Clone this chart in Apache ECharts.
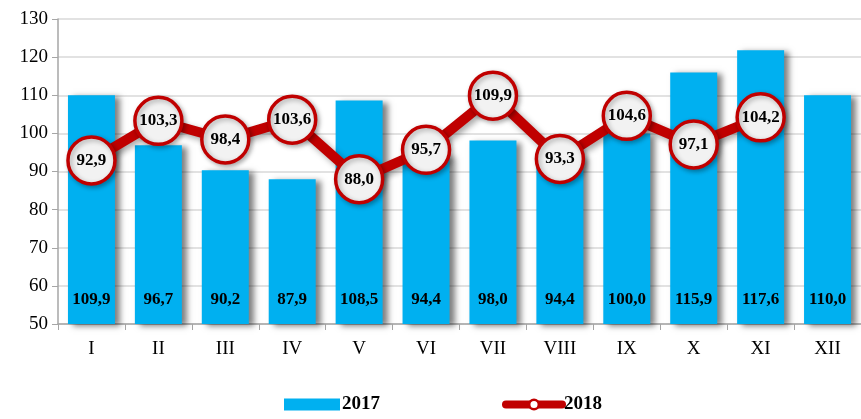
<!DOCTYPE html>
<html>
<head>
<meta charset="utf-8">
<script src="https://cdn.jsdelivr.net/npm/echarts@6/dist/echarts.min.js"></script>
<style>
  html, body { margin: 0; padding: 0; background: #fff; }
  #chart { width: 861px; height: 419px; }
</style>
</head>
<body>
<div id="chart"></div>
<script>
// months
var months = ['I', 'II', 'III', 'IV', 'V', 'VI', 'VII', 'VIII', 'IX', 'X', 'XI', 'XII'];
// 2017: bar heights as drawn, and the numbers printed on them
var bars2017 = [110.0, 96.9, 90.3, 88.0, 108.6, 94.4, 98.1, 94.4, 100.0, 116.0, 121.8, 110.0];
var labels2017 = ['109,9', '96,7', '90,2', '87,9', '108,5', '94,4', '98,0', '94,4', '100,0', '115,9', '117,6', '110,0'];
// 2018
var line2018 = [92.9, 103.3, 98.4, 103.6, 88.0, 95.7, 109.9, 93.3, 104.6, 97.1, 104.2];
var yTicks = { min: 50, max: 130, step: 10 };

var serif = 'Liberation Serif';
var chart = echarts.init(document.getElementById('chart'));

chart.setOption({
  animation: false,
  textStyle: { fontFamily: serif },
  grid: { left: 58, right: 0, top: 19, bottom: 95 },
  legend: {
    bottom: 0,
    left: 279,
    itemGap: 122,
    textStyle: { fontFamily: serif, fontSize: 19, fontWeight: 'bold', color: '#000', padding: [0, 0, 0, -3] },
    data: [
      { name: '2017', icon: 'rect', itemStyle: { color: '#00b0f0' } },
      {
        name: '2018',
        itemStyle: { color: '#fff', borderColor: '#c00000', borderWidth: 2.5 },
        lineStyle: { color: '#c00000', width: 8, cap: 'round' }
      }
    ],
    itemWidth: 56,
    itemHeight: 12
  },
  xAxis: {
    type: 'category',
    data: months,
    axisLine: { lineStyle: { color: '#a6a6a6', width: 1.5 } },
    axisTick: { show: true, length: 6, lineStyle: { color: '#a6a6a6' } },
    axisLabel: { color: '#000', fontSize: 19, fontFamily: serif, margin: 16 },
    splitLine: { show: false }
  },
  yAxis: {
    type: 'value',
    min: yTicks.min,
    max: yTicks.max,
    interval: yTicks.step,
    axisLine: { show: true, lineStyle: { color: '#a6a6a6', width: 1.5 } },
    axisTick: { show: true, length: 6, lineStyle: { color: '#a6a6a6' } },
    axisLabel: { color: '#000', fontSize: 19, fontFamily: serif, margin: 10 },
    splitLine: { lineStyle: { color: '#d9d9d9', width: 1.5 } }
  },
  series: [
    {
      name: '2017',
      type: 'bar',
      data: bars2017,
      barWidth: 47,
      itemStyle: {
        color: '#00b0f0',
        shadowColor: 'rgba(0,0,0,0.5)',
        shadowBlur: 6,
        shadowOffsetX: 5,
        shadowOffsetY: 2
      },
      label: {
        show: true,
        position: 'insideBottom',
        distance: 16,
        color: '#000',
        fontFamily: serif,
        fontWeight: 'bold',
        fontSize: 17,
        formatter: function (p) { return labels2017[p.dataIndex]; }
      },
      z: 2
    },
    {
      name: '2018',
      type: 'line',
      data: line2018,
      symbol: 'circle',
      symbolSize: 47,
      lineStyle: {
        color: '#c00000',
        width: 10,
        shadowColor: 'rgba(0,0,0,0.35)',
        shadowBlur: 6,
        shadowOffsetX: 3,
        shadowOffsetY: 3
      },
      itemStyle: {
        color: '#f2f2f2',
        borderColor: '#c00000',
        borderWidth: 3.5,
        shadowColor: 'rgba(0,0,0,0.3)',
        shadowBlur: 5,
        shadowOffsetX: 2,
        shadowOffsetY: 2
      },
      label: {
        show: true,
        position: 'inside',
        color: '#000',
        fontFamily: serif,
        fontWeight: 'bold',
        fontSize: 17,
        formatter: function (p) { return String(p.value.toFixed(1)).replace('.', ','); }
      },
      z: 5
    }
  ]
});
</script>
</body>
</html>
